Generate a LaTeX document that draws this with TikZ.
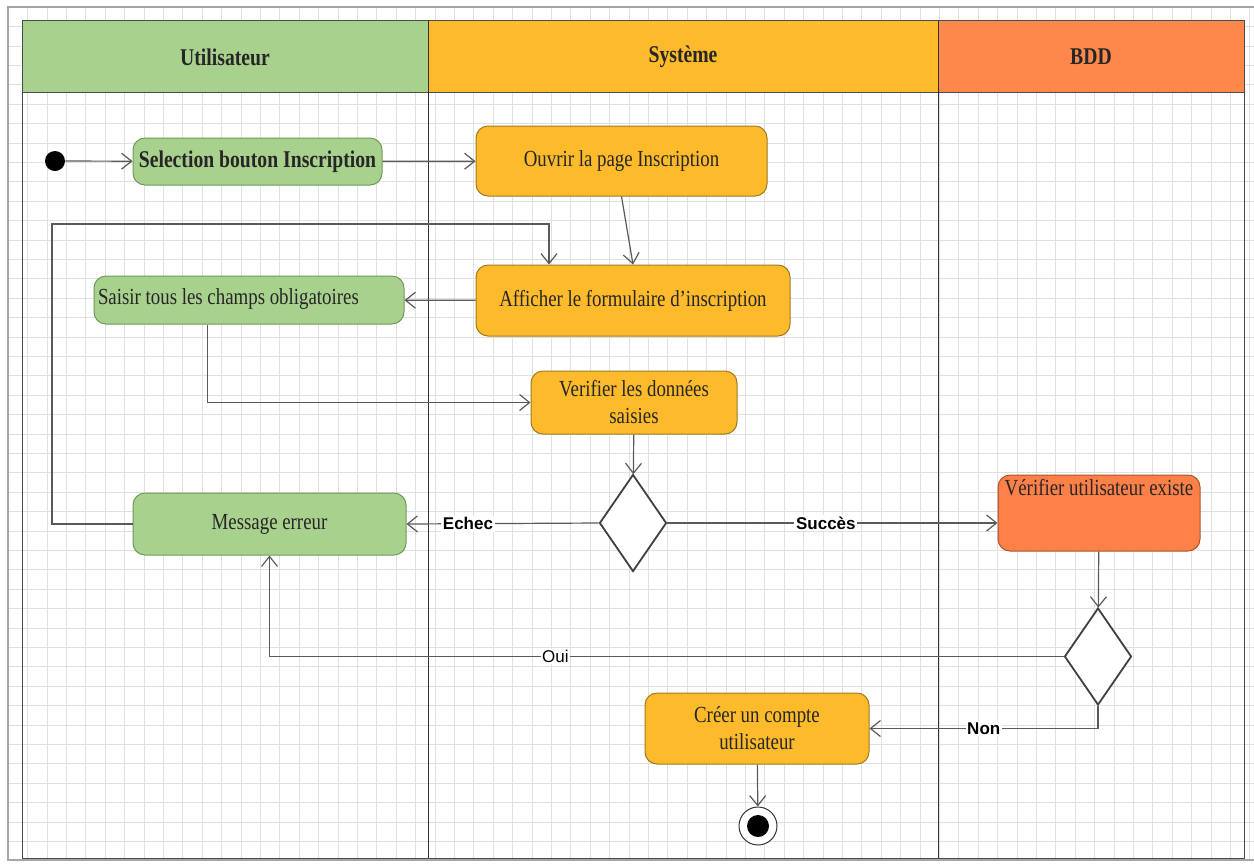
\documentclass[tikz,border=0pt]{standalone}
\usepackage{fontspec}
\setmainfont{Liberation Serif}[FakeStretch=0.82]
\newfontfamily\lblfont{Liberation Sans}
\usepackage{tikz}
\usetikzlibrary{arrows.meta,shapes.geometric}

\definecolor{vertU}{HTML}{A9D18E}
\definecolor{vertB}{HTML}{6F9A57}
\definecolor{jauneS}{HTML}{FDBB2C}
\definecolor{jauneB}{HTML}{9E7A1E}
\definecolor{orangeH}{HTML}{FE884B}
\definecolor{orangeN}{HTML}{FD8048}
\definecolor{orangeB}{HTML}{A8552E}
\definecolor{trait}{HTML}{5A5A5A}

\begin{document}
\begin{tikzpicture}[
    x=0.5pt, y=-0.5pt,
    act/.style={rectangle, rounded corners=6pt, line width=0.5pt, align=center,
      inner sep=2pt, text=black!85, font=\fontsize{11.5}{13.5}\selectfont},
    actU/.style={act, fill=vertU, draw=vertB},
    actS/.style={act, fill=jauneS, draw=jauneB},
    actB/.style={act, fill=orangeN, draw=orangeB},
    choix/.style={diamond, draw=black!75, fill=white, line width=0.9pt,
      minimum width=33.5pt, minimum height=48.5pt, inner sep=0pt},
    debut/.style={circle, fill=black, inner sep=0pt, minimum size=10pt},
    titre/.style={font=\bfseries\fontsize{12}{14}\selectfont, text=black!85},
    flow/.style={draw=trait, line width=0.6pt, -{Straight Barb[length=5pt,width=8pt]}},
    lbl/.style={font=\lblfont\bfseries\fontsize{8.5}{10}\selectfont, fill=white, inner sep=0.8pt},
  ]
  \useasboundingbox (0,0) rectangle (1254,864);
  \fill[white] (0,0) rectangle (1254,864);

  % quadrillage de fond
  \foreach \i in {0,...,64} {
    \draw[black!12, line width=0.3pt] (8+19.4*\i,7) -- (8+19.4*\i,860);
  }
  \foreach \j in {0,...,44} {
    \draw[black!12, line width=0.3pt] (8,7+19.4*\j) -- (1254,7+19.4*\j);
  }
  \draw[black!35, line width=0.6pt] (1254,7) -- (8,7) -- (8,860) -- (1254,860);

  % couloirs
  \fill[vertU] (22,20) rectangle (428,92);
  \fill[jauneS] (428,20) rectangle (938,92);
  \fill[orangeH] (938,20) rectangle (1244,92);
  \draw[black!70, line width=0.5pt] (22,20) rectangle (1244,858);
  \draw[black!70, line width=0.5pt] (22,92) -- (1244,92);
  \draw[black!80, line width=0.5pt] (428,20) -- (428,858);
  \draw[black!80, line width=0.5pt] (938,20) -- (938,858);
  \node[titre] (hU) at (225,57) {Utilisateur};
  \node[titre] (hS) at (683,57) {Système};
  \node[titre] (hB) at (1091,57) {BDD};

  % actions
  \node[debut] (debut) at (55,161) {};
  \node[actU, font=\bfseries\fontsize{12}{14}\selectfont, minimum width=124.5pt, minimum height=23.5pt]
    (sel) at (257.5,161.5) {Selection bouton Inscription};
  \node[actS, minimum width=145.5pt, minimum height=35pt] (ouv) at (621.5,161) {Ouvrir la page Inscription};
  \node[actS, minimum width=157pt, minimum height=35.5pt] (aff) at (633,300.5) {Afficher le formulaire d'inscription};
  \node[actU, text width=151pt, align=flush left, minimum height=24pt, text depth=3pt] (sai) at (249,300) {Saisir tous les champs obligatoires};
  \node[actS, minimum width=103pt, minimum height=31.5pt] (ver) at (634,402.5) {Verifier les données\\saisies};
  \node[choix] (dec1) at (633,523) {};
  \node[actU, minimum width=136.5pt, minimum height=31pt] (msg) at (269.5,524) {Message erreur};
  \node[actB, minimum width=101pt, text height=8pt, text depth=26pt, inner ysep=2pt]
    (vu) at (1099,513) {Vérifier utilisateur existe};
  \node[choix] (dec2) at (1098,656.5) {};
  \node[actS, minimum width=112pt, minimum height=35.5pt] (cre) at (757,728.5) {Créer un compte\\utilisateur};
  \node[circle, draw=black!80, fill=white, line width=0.5pt, minimum width=17pt, minimum height=19pt, inner sep=0pt] (fin) at (758,826) {};
  \node[debut, minimum size=11pt] (finin) at (fin) {};
  \coordinate (boucle) at (52,224);

  % transitions
  \draw[flow] (debut) -- (sel);
  \draw[flow] (sel) -- (ouv);
  \draw[flow] (ouv.south) -- (aff.north);
  \draw[flow] (aff) -- (sai);
  \draw[flow] ([xshift=57pt]sai.south west) |- (ver.west);
  \draw[flow] (ver) -- (dec1);
  \draw[flow] (dec1.west) -- (msg.east) node[lbl, pos=0.68] {Echec};
  \draw[flow] (dec1.east) -- (dec1.east -| vu.west) node[lbl, pos=0.48] {Succès};
  \draw[flow] (msg.west) -| (boucle) -| ([xshift=-42pt]aff.north);
  \draw[flow] (vu) -- (dec2);
  \draw[flow] (dec2.west) -| (msg.south) node[lbl, font=\lblfont\fontsize{8.5}{10}\selectfont, pos=0.32] {Oui};
  \draw[flow] (dec2.south) |- (cre.east) node[lbl, pos=0.75] {Non};
  \draw[flow] (cre) -- (fin);
\end{tikzpicture}
\end{document}
